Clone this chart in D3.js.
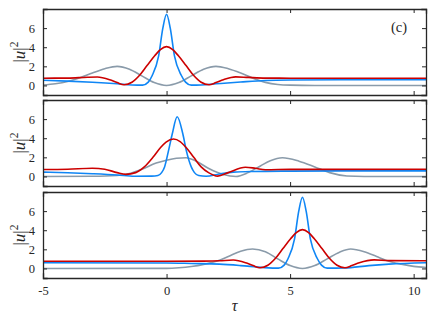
<!DOCTYPE html>
<html><head><meta charset="utf-8">
<script src="https://cdn.jsdelivr.net/npm/d3@7"></script>
<style>
html,body{margin:0;padding:0;background:#fff;}
svg{display:block;}
text{font-family:"Liberation Serif","Times New Roman",serif;fill:#262626;}
</style></head>
<body><svg id="chart" width="436" height="316"></svg>
<script>
// ---- data ----
const xTicks = [-5, 0, 5, 10];
const yTicks = [0, 2, 4, 6];
const xDomain = [-5, 10.5];
const yDomain = [-1, 8];
const panelLabel = "(c)";

// Panel 1
const p1BlueT = [-5, -4, -3, -2, -1.4, -0.97, -0.74, -0.58, -0.32, -0.15, 0, 0.15, 0.32, 0.6, 0.77, 1.0, 1.4, 2, 3, 4, 5, 7, 10.5];
const p1BlueV = [0.55, 0.45, 0.33, 0.17, 0.05, 0.03, 0.35, 1.04, 3.1, 6.0, 7.45, 6.0, 3.1, 1.04, 0.35, 0.03, 0.05, 0.17, 0.36, 0.52, 0.57, 0.59, 0.59];
const p1RedT = [-5, -4, -3.2, -2.8, -2.3, -2.0, -1.72, -1.4, -1.1, -0.79, -0.48, -0.25, 0, 0.25, 0.48, 0.79, 1.1, 1.4, 1.72, 2.0, 2.3, 2.8, 3.3, 4, 5, 10.5];
const p1RedV = [0.76, 0.77, 0.86, 0.88, 0.6, 0.3, 0.07, 0.33, 1.04, 2.08, 3.1, 3.75, 4.06, 3.75, 3.1, 2.08, 1.04, 0.33, 0.07, 0.3, 0.6, 0.9, 0.84, 0.77, 0.76, 0.76];
const p1GrayT = [-5, -4.5, -4, -3.5, -3, -2.5, -2, -1.5, -1, -0.5, 0, 0.5, 1, 1.5, 2, 2.5, 3, 3.5, 4, 4.5, 5, 6, 10.5];
const p1GrayV = [0.05, 0.18, 0.42, 0.8, 1.3, 1.75, 2.0, 1.7, 1.0, 0.3, 0.0, 0.3, 1.0, 1.7, 2.0, 1.75, 1.3, 0.75, 0.32, 0.1, 0.03, 0.0, 0.0];

// Panel 2
const p2BlueT = [-5, -4, -3, -2, -1.3, -0.6, -0.35, -0.2, -0.08, 0.08, 0.23, 0.43, 0.66, 0.8, 1.0, 1.13, 1.3, 1.6, 2.14, 2.7, 3.5, 5, 7, 10.5];
const p2BlueV = [0.45, 0.38, 0.28, 0.15, 0.02, 0.03, 0.1, 0.4, 1.0, 2.7, 4.44, 6.25, 4.44, 2.7, 1.0, 0.4, 0.1, 0.02, 0.26, 0.45, 0.52, 0.56, 0.58, 0.58];
const p2RedT = [-5, -4, -3, -2.5, -2, -1.65, -1.25, -0.9, -0.55, -0.25, -0.02, 0.28, 0.55, 0.8, 1.1, 1.4, 1.7, 2.07, 2.5, 3.19, 3.6, 4.0, 5, 10.5];
const p2RedV = [0.72, 0.75, 0.85, 0.75, 0.4, 0.22, 0.4, 1.0, 2.0, 3.0, 3.6, 3.92, 3.65, 3.0, 2.0, 1.0, 0.4, 0.03, 0.4, 0.97, 0.85, 0.7, 0.74, 0.76];
const p2GrayT = [-5, -3, -2, -1.5, -1, -0.42, 0, 0.4, 0.79, 1.2, 1.73, 2.3, 2.81, 3.3, 3.8, 4.2, 4.69, 5.36, 6, 6.6, 7.3, 8, 10.5];
const p2GrayV = [0.0, 0.02, 0.1, 0.3, 0.75, 1.4, 1.7, 1.9, 1.96, 1.6, 0.8, 0.2, 0.0, 0.4, 1.1, 1.65, 1.96, 1.6, 1.0, 0.4, 0.05, 0.0, 0.0];

// Panel 3
const p3BlueT = [-5, 0, 1, 2.14, 3, 3.9, 4.53, 4.76, 4.92, 5.18, 5.35, 5.5, 5.65, 5.82, 6.1, 6.27, 6.5, 7.2, 8.19, 9, 10.5];
const p3BlueV = [0.6, 0.57, 0.52, 0.45, 0.3, 0.1, 0.03, 0.35, 1.04, 3.1, 6.0, 7.45, 6.0, 3.1, 1.04, 0.35, 0.03, 0.05, 0.3, 0.45, 0.6];
const p3RedT = [-5, 0, 1.5, 2.14, 2.7, 3.2, 3.5, 3.78, 4.1, 4.4, 4.71, 5.02, 5.25, 5.5, 5.75, 5.98, 6.29, 6.6, 6.9, 7.22, 7.5, 7.8, 8.4, 9, 10.5];
const p3RedV = [0.76, 0.76, 0.77, 0.8, 0.88, 0.6, 0.3, 0.07, 0.33, 1.04, 2.08, 3.1, 3.75, 4.06, 3.75, 3.1, 2.08, 1.04, 0.33, 0.07, 0.3, 0.6, 0.9, 0.82, 0.8];
const p3GrayT = [-5, 0, 0.5, 1, 1.5, 2.14, 2.5, 3, 3.48, 4, 4.5, 5, 5.5, 6, 6.5, 7, 7.45, 8, 8.5, 8.87, 9.5, 10, 10.5];
const p3GrayV = [0.0, 0.01, 0.07, 0.2, 0.42, 0.86, 1.25, 1.8, 2.03, 1.75, 1.0, 0.3, 0.0, 0.3, 1.0, 1.7, 2.03, 1.75, 1.25, 0.86, 0.45, 0.22, 0.1];

const seriesColors = {blue: "#0f86f5", red: "#cc0000", gray: "#8a9baa"};

// ---- layout ----
const svg = d3.select("#chart");
const left = 43, right = 426, ph = 86;
const tops = [9, 100, 192];
const x = d3.scaleLinear().domain(xDomain).range([left, right]);

const panels = [
  [{t: p1GrayT, v: p1GrayV, c: "gray"}, {t: p1BlueT, v: p1BlueV, c: "blue"}, {t: p1RedT, v: p1RedV, c: "red"}],
  [{t: p2GrayT, v: p2GrayV, c: "gray"}, {t: p2BlueT, v: p2BlueV, c: "blue"}, {t: p2RedT, v: p2RedV, c: "red"}],
  [{t: p3GrayT, v: p3GrayV, c: "gray"}, {t: p3BlueT, v: p3BlueV, c: "blue"}, {t: p3RedT, v: p3RedV, c: "red"}]
];

const axisColor = "#262626";
const serif = '"Liberation Serif", "Times New Roman", serif';
panels.forEach((series, i) => {
  const top = tops[i], bottom = top + ph;
  const y = d3.scaleLinear().domain(yDomain).range([bottom, top]);
  const g = svg.append("g");
  const clipId = "clip" + i;
  svg.append("clipPath").attr("id", clipId).append("rect")
    .attr("x", left).attr("y", top).attr("width", right - left).attr("height", ph);

  const line = d3.line().x(d => x(d[0])).y(d => y(d[1])).curve(d3.curveMonotoneX);
  series.forEach(s => {
    const pts = s.t.map((t, k) => [t, s.v[k]]);
    g.append("path").attr("d", line(pts)).attr("fill", "none")
      .attr("stroke", seriesColors[s.c]).attr("stroke-width", 1.6)
      .attr("clip-path", `url(#${clipId})`);
  });

  // axes (inward ticks, box)
  const axL = d3.axisLeft(y).tickValues(yTicks).tickSize(-4).tickPadding(8).tickFormat(d3.format("d"));
  const axR = d3.axisRight(y).tickValues(yTicks).tickSize(-4).tickFormat("");
  const axT = d3.axisTop(x).tickValues(xTicks).tickSize(-4).tickFormat("");
  const axB = d3.axisBottom(x).tickValues(xTicks).tickSize(-4).tickPadding(8)
    .tickFormat(i === 2 ? (d => String(d)) : "");
  const styleAx = sel => {
    sel.attr("font-family", serif);
    sel.select(".domain").attr("stroke", axisColor).attr("stroke-width", 1.3);
    sel.selectAll(".tick line").attr("stroke", axisColor).attr("stroke-width", 1);
    sel.selectAll(".tick text").attr("font-size", 12.5).attr("fill", axisColor)
      .style("font-family", serif);
  };
  g.append("g").attr("transform", `translate(${left},0)`).call(axL).call(styleAx);
  g.append("g").attr("transform", `translate(${right},0)`).call(axR).call(styleAx);
  g.append("g").attr("transform", `translate(0,${top})`).call(axT).call(styleAx);
  g.append("g").attr("transform", `translate(0,${bottom})`).call(axB).call(styleAx);
  svg.selectAll(".domain").attr("stroke-linecap", "square");

  // y label |u|^2
  const yl = g.append("text")
    .attr("transform", `translate(25,${(top + bottom) / 2}) rotate(-90)`)
    .attr("text-anchor", "middle").attr("font-size", 17).attr("fill", "#333");
  yl.append("tspan").text("|");
  yl.append("tspan").attr("font-style", "italic").text("u");
  yl.append("tspan").text("|");
  yl.append("tspan").attr("font-size", 11.5).attr("dy", -7).text("2");
});

svg.append("text").attr("x", 399).attr("y", 32).attr("text-anchor", "middle")
  .attr("font-size", 14.5).text(panelLabel);
svg.append("text").attr("x", (left + right) / 2).attr("y", 311).attr("text-anchor", "middle")
  .attr("font-size", 16).attr("font-style", "italic").text("τ");
</script></body></html>
